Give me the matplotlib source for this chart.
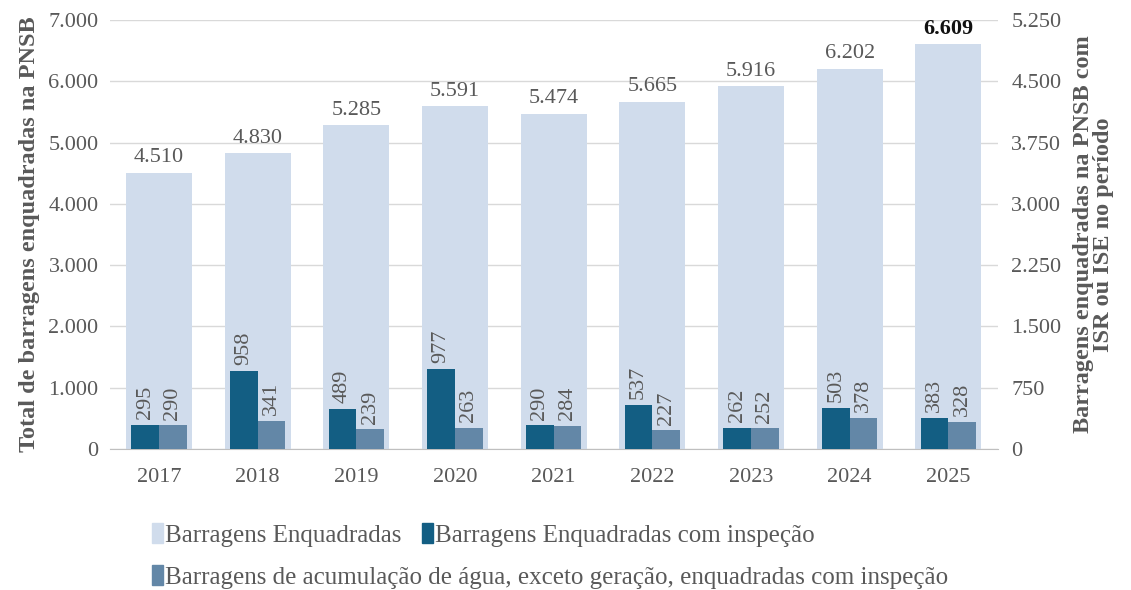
import matplotlib.pyplot as plt
import numpy as np
from matplotlib.patches import Patch
from matplotlib.ticker import FuncFormatter, FixedLocator

plt.rcParams["font.family"] = ["Liberation Serif", "DejaVu Serif"]

years = ["2017", "2018", "2019", "2020", "2021", "2022", "2023", "2024", "2025"]
enquadradas = [4510, 4830, 5285, 5591, 5474, 5665, 5916, 6202, 6609]
com_inspecao = [295, 958, 489, 977, 290, 537, 262, 503, 383]
acumulacao = [290, 341, 239, 263, 284, 227, 252, 378, 328]

C_LIGHT = "#D0DCEC"
C_DARK = "#135E83"
C_MID = "#6387A7"
C_TEXT = "#595959"


def fmt(v, pos=None):
    return f"{int(v):,}".replace(",", ".")


fig = plt.figure(figsize=(11.31, 5.90), dpi=100)
ax = fig.add_axes([0.097, 0.239, 0.785, 0.727])
ax2 = ax.twinx()

x = np.arange(len(years))
ax.bar(x, enquadradas, width=0.67, color=C_LIGHT, zorder=2)
ax.set_ylim(0, 7000)
ax.set_xlim(-0.5, len(years) - 0.5)
ax.yaxis.set_major_locator(FixedLocator(np.arange(0, 7001, 1000)))
ax.yaxis.set_major_formatter(FuncFormatter(fmt))
ax.grid(axis="y", color="#D9D9D9", lw=1, zorder=0)
ax.set_axisbelow(True)

w = 0.28
ax2.bar(x - w / 2, com_inspecao, width=w, color=C_DARK, zorder=3)
ax2.bar(x + w / 2, acumulacao, width=w, color=C_MID, zorder=3)
ax2.set_ylim(0, 5250)
ax2.yaxis.set_major_locator(FixedLocator(np.arange(0, 5251, 750)))
ax2.yaxis.set_major_formatter(FuncFormatter(fmt))

for i, v in enumerate(enquadradas):
    last = i == len(years) - 1
    ax.text(i, v + 90, fmt(v), ha="center", va="bottom", fontsize=16,
            color="#111111" if last else C_TEXT,
            fontweight="bold" if last else "normal")

for i in range(len(years)):
    ax2.text(i - w / 2, com_inspecao[i] + 70, str(com_inspecao[i]), rotation=90,
             ha="center", va="bottom", fontsize=16, color=C_TEXT)
    ax2.text(i + w / 2, acumulacao[i] + 70, str(acumulacao[i]), rotation=90,
             ha="center", va="bottom", fontsize=16, color=C_TEXT)

ax.set_xticks(x)
ax.set_xticklabels(years)
for a in (ax, ax2):
    for s in a.spines.values():
        s.set_visible(False)
    a.tick_params(length=0, labelsize=16, colors=C_TEXT)
ax.spines["bottom"].set_visible(True)
ax.spines["bottom"].set_color("#BFBFBF")
ax.tick_params(axis="x", pad=14)
ax.tick_params(axis="y", pad=8)
ax2.tick_params(axis="y", pad=10)

ax.set_ylabel("Total de barragens enquadradas na PNSB", fontsize=17.5,
              fontweight="bold", color=C_TEXT, labelpad=6)
ax2.set_ylabel("Barragens enquadradas na PNSB com\nISR ou ISE no período", fontsize=17.5,
               fontweight="bold", color=C_TEXT, labelpad=8, rotation=90,
               linespacing=0.95)

h1 = Patch(color=C_LIGHT)
h2 = Patch(color=C_DARK)
h3 = Patch(color=C_MID)
leg_kw = dict(frameon=False, fontsize=18, handlelength=0.45, handleheight=0.85,
              handletextpad=0.1, columnspacing=0.8, labelcolor=C_TEXT,
              borderaxespad=0, borderpad=0)
fig.legend([h1, h2], ["Barragens Enquadradas", "Barragens Enquadradas com inspeção"],
           loc="center left", bbox_to_anchor=(0.134, 0.093), ncol=2, **leg_kw)
fig.legend([h3], ["Barragens de acumulação de água, exceto geração, enquadradas com inspeção"],
           loc="center left", bbox_to_anchor=(0.134, 0.022), **leg_kw)

fig.savefig("out.png", dpi=100)
